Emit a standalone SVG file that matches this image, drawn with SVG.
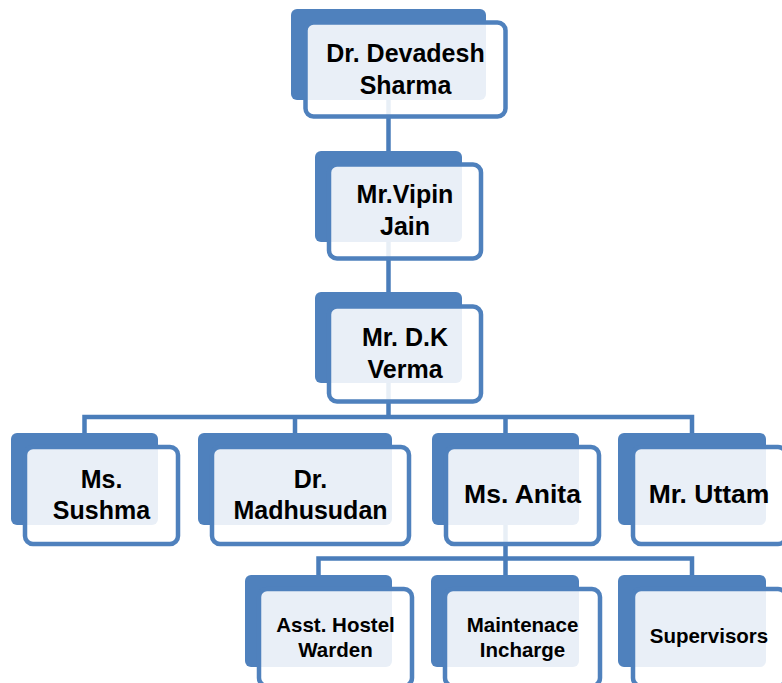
<svg xmlns="http://www.w3.org/2000/svg" width="782" height="683" viewBox="0 0 782 683">
<style>
.back{fill:#4F81BD;}
.front{fill:#FFFFFF;fill-opacity:0.875;stroke:#4F81BD;stroke-width:4.5;}
.conn{fill:none;stroke:#4A7DBA;stroke-width:4.5;stroke-linejoin:miter;}
.t{font-family:"Liberation Sans",Arial,sans-serif;font-weight:bold;font-size:25px;fill:#000;text-anchor:middle;}
.b{font-size:26.5px;}
.s{font-size:20.5px;}
</style>
<rect width="782" height="683" fill="#FFFFFF"/>
<g id="connectors">
<path class="conn" d="M388.5 100 V151"/>
<path class="conn" d="M388.5 242 V293"/>
<path class="conn" d="M388.5 383 V417 M84.5 433 V417 H692 V433 M295 417 V433 M505.5 417 V433"/>
<path class="conn" d="M505.5 525 V558.5 M318.5 575 V558.5 H692 V575 M505.5 558.5 V575"/>
</g>
<g id="n1">
<rect class="back" x="291" y="9" width="195" height="91" rx="6"/>
<rect class="front" x="305.5" y="22.5" width="200" height="94" rx="8"/>
<text class="t" x="405.5" y="62">Dr. Devadesh</text>
<text class="t" x="405.5" y="94">Sharma</text>
</g>
<g id="n2">
<rect class="back" x="315" y="151" width="147" height="91" rx="6"/>
<rect class="front" x="329" y="164.5" width="152" height="94" rx="8"/>
<text class="t" x="405" y="203">Mr.Vipin</text>
<text class="t" x="405" y="235">Jain</text>
</g>
<g id="n3">
<rect class="back" x="315" y="292" width="147" height="91" rx="6"/>
<rect class="front" x="329" y="306.5" width="152" height="95" rx="8"/>
<text class="t" x="405" y="346">Mr. D.K</text>
<text class="t" x="405" y="378">Verma</text>
</g>
<g id="n4">
<rect class="back" x="11" y="433" width="147" height="92" rx="6"/>
<rect class="front" x="25" y="447" width="153" height="97" rx="8"/>
<text class="t" x="101.5" y="488">Ms.</text>
<text class="t" x="101.5" y="519">Sushma</text>
</g>
<g id="n5">
<rect class="back" x="198" y="433" width="194" height="92" rx="6"/>
<rect class="front" x="212" y="447" width="197" height="97" rx="8"/>
<text class="t" x="310.5" y="488">Dr.</text>
<text class="t" x="310.5" y="519">Madhusudan</text>
</g>
<g id="n6">
<rect class="back" x="432" y="433" width="147" height="92" rx="6"/>
<rect class="front" x="446" y="447" width="153" height="97" rx="8"/>
<text class="t b" x="522.5" y="503">Ms. Anita</text>
</g>
<g id="n7">
<rect class="back" x="618" y="433" width="148" height="92" rx="6"/>
<rect class="front" x="633" y="447" width="153" height="97" rx="8"/>
<text class="t b" x="709" y="503">Mr. Uttam</text>
</g>
<g id="n8">
<rect class="back" x="245" y="575" width="147" height="92" rx="6"/>
<rect class="front" x="259" y="589" width="153" height="97" rx="8"/>
<text class="t s" x="335.5" y="632">Asst. Hostel</text>
<text class="t s" x="335.5" y="657">Warden</text>
</g>
<g id="n9">
<rect class="back" x="431" y="575" width="148" height="92" rx="6"/>
<rect class="front" x="445" y="589" width="155" height="97" rx="8"/>
<text class="t s" x="522.5" y="632">Maintenace</text>
<text class="t s" x="522.5" y="657">Incharge</text>
</g>
<g id="n10">
<rect class="back" x="618" y="575" width="148" height="92" rx="6"/>
<rect class="front" x="633" y="589" width="153" height="97" rx="8"/>
<text class="t s" x="709" y="643">Supervisors</text>
</g>
</svg>
